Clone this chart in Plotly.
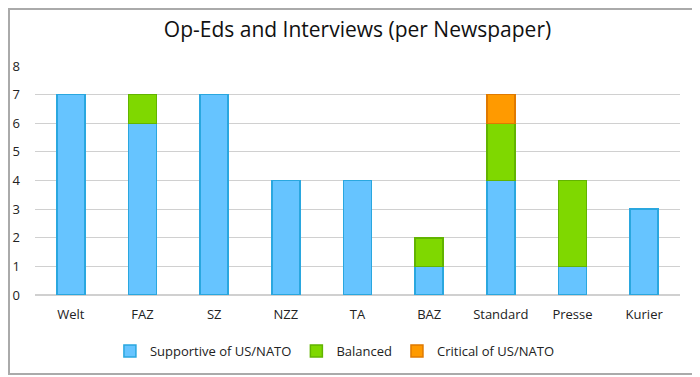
import plotly.graph_objects as go

papers = ["Welt", "FAZ", "SZ", "NZZ", "TA", "BAZ", "Standard", "Presse", "Kurier"]
supportive = [7, 6, 7, 4, 4, 1, 4, 1, 3]
balanced = [0, 1, 0, 0, 0, 1, 2, 3, 0]
critical = [0, 0, 0, 0, 0, 0, 1, 0, 0]
series = [
    ("Supportive of US/NATO", supportive, "#66C4FF", "#2AA7DF"),
    ("Balanced", balanced, "#7FD800", "#62B400"),
    ("Critical of US/NATO", critical, "#FF9A00", "#E07A00"),
]

fig = go.Figure()
for name, vals, fill, line in series:
    fig.add_trace(go.Bar(
        x=papers, y=[v if v else None for v in vals], name=name,
        marker=dict(color=fill, line=dict(color=line, width=1.5)),
        width=0.39,
    ))

W, H = 692, 369  # page body has an 8px margin
L, R, T, B = 27, 20, 58, 82
pw, ph = W - L - R, H - T - B

font = "Open Sans, Liberation Sans, sans-serif"
fig.update_layout(
    barmode="stack",
    width=W, height=H,
    margin=dict(l=L, r=R, t=T, b=B, autoexpand=False),
    paper_bgcolor="white", plot_bgcolor="white",
    font=dict(family=font, size=13, color="#222"),
    title=dict(text="Op-Eds and Interviews (per Newspaper)", x=0.5, xanchor="center",
               xref="paper", y=1 - 22 / H, yanchor="middle",
               font=dict(size=21, color="#111")),
    xaxis=dict(showgrid=False, showline=False, ticks="", tickfont=dict(size=13),
               ticklabelstandoff=10, automargin=False),
    yaxis=dict(range=[0, 8], dtick=1, showgrid=True, gridcolor="#D0D0D0", gridwidth=1,
               zeroline=True, zerolinecolor="#D0D0D0", ticks="", ticklabelstandoff=14,
               tickfont=dict(size=13), automargin=False),
    legend=dict(orientation="h", x=0.465, xanchor="center", yref="container",
                y=1 - 343 / H, yanchor="middle",
                font=dict(size=13), traceorder="normal", itemwidth=30),
    showlegend=True,
    shapes=[dict(type="rect", xref="paper", yref="paper",
                 x0=-(L - 1) / pw, x1=1 + (R - 3) / pw,
                 y0=-(B - 3) / ph, y1=1 + (T - 1) / ph,
                 line=dict(color="#AAAAAA", width=2), layer="below")],
)

fig.write_html("out.html")
